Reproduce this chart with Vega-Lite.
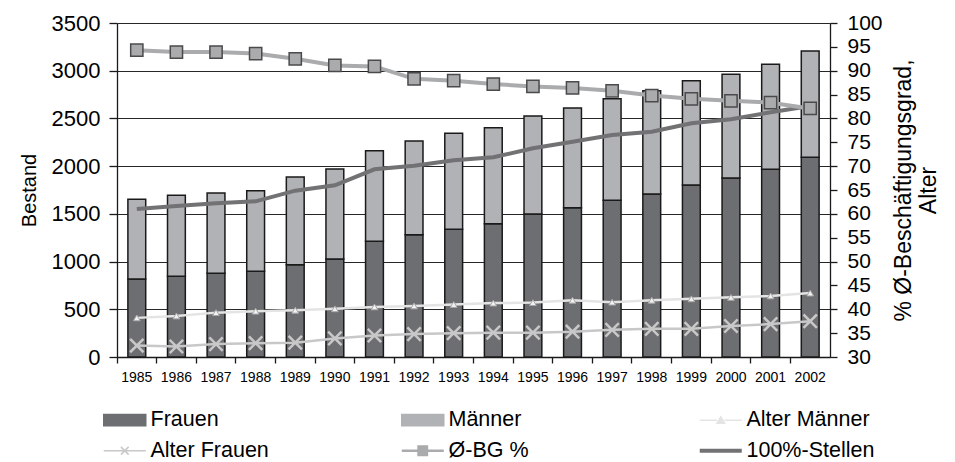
{
  "$schema": "https://vega.github.io/schema/vega-lite/v6.json",
  "width": 713,
  "height": 334,
  "autosize": {"type": "none"},
  "padding": {"left": 117, "top": 23, "right": 125, "bottom": 105},
  "background": "white",
  "data": {
    "values": [
      {"year": "1985", "Frauen": 817, "Männer": 836, "Stellen": 1551, "BG": 94.3, "AlterM": 38.2, "AlterF": 32.4},
      {"year": "1986", "Frauen": 845, "Männer": 849, "Stellen": 1582, "BG": 93.9, "AlterM": 38.6, "AlterF": 32.2},
      {"year": "1987", "Frauen": 877, "Männer": 842, "Stellen": 1610, "BG": 93.9, "AlterM": 39.3, "AlterF": 32.7},
      {"year": "1988", "Frauen": 898, "Männer": 845, "Stellen": 1631, "BG": 93.6, "AlterM": 39.6, "AlterF": 32.9},
      {"year": "1989", "Frauen": 967, "Männer": 919, "Stellen": 1743, "BG": 92.5, "AlterM": 39.8, "AlterF": 33.0},
      {"year": "1990", "Frauen": 1027, "Männer": 943, "Stellen": 1799, "BG": 91.1, "AlterM": 40.1, "AlterF": 33.9},
      {"year": "1991", "Frauen": 1212, "Männer": 950, "Stellen": 1967, "BG": 90.9, "AlterM": 40.5, "AlterF": 34.5},
      {"year": "1992", "Frauen": 1282, "Männer": 981, "Stellen": 2005, "BG": 88.3, "AlterM": 40.7, "AlterF": 34.8},
      {"year": "1993", "Frauen": 1338, "Männer": 1006, "Stellen": 2061, "BG": 87.9, "AlterM": 41.0, "AlterF": 35.0},
      {"year": "1994", "Frauen": 1397, "Männer": 1006, "Stellen": 2093, "BG": 87.2, "AlterM": 41.3, "AlterF": 35.1},
      {"year": "1995", "Frauen": 1498, "Männer": 1027, "Stellen": 2187, "BG": 86.7, "AlterM": 41.4, "AlterF": 35.1},
      {"year": "1996", "Frauen": 1565, "Männer": 1044, "Stellen": 2256, "BG": 86.4, "AlterM": 41.9, "AlterF": 35.3},
      {"year": "1997", "Frauen": 1642, "Männer": 1065, "Stellen": 2326, "BG": 85.8, "AlterM": 41.5, "AlterF": 35.7},
      {"year": "1998", "Frauen": 1708, "Männer": 1083, "Stellen": 2361, "BG": 84.8, "AlterM": 41.9, "AlterF": 35.9},
      {"year": "1999", "Frauen": 1802, "Männer": 1094, "Stellen": 2449, "BG": 84.1, "AlterM": 42.2, "AlterF": 35.9},
      {"year": "2000", "Frauen": 1876, "Männer": 1086, "Stellen": 2491, "BG": 83.7, "AlterM": 42.5, "AlterF": 36.5},
      {"year": "2001", "Frauen": 1967, "Männer": 1100, "Stellen": 2564, "BG": 83.3, "AlterM": 42.8, "AlterF": 36.9},
      {"year": "2002", "Frauen": 2093, "Männer": 1114, "Stellen": 2630, "BG": 82.1, "AlterM": 43.4, "AlterF": 37.5}
    ]
  },
  "encoding": {
    "x": {"field": "year", "type": "ordinal", "title": null, "scale": {"paddingInner": 0, "paddingOuter": 0}}
  },
  "layer": [
    {
      "layer": [
        {
          "transform": [{"fold": ["Frauen", "Männer"], "as": ["series", "value"]}],
          "mark": {"type": "bar", "width": {"band": 0.45}, "stroke": "#1a1a1a", "strokeWidth": 1.5},
          "encoding": {
            "y": {"field": "value", "type": "quantitative", "stack": "zero", "title": "Bestand",
                  "scale": {"domain": [0, 3500], "nice": false},
                  "axis": {"values": [0, 500, 1000, 1500, 2000, 2500, 3000, 3500], "format": "d"}},
            "color": {"field": "series", "type": "nominal",
              "scale": {"domain": ["Frauen", "Männer", "Alter Männer", "Alter Frauen", "Ø-BG %", "100%-Stellen"],
                        "range": ["#6d6e71", "#b1b2b5", "#e4e4e4", "#c8c8c8", "#aaabad", "#727275"]},
              "legend": {
                "title": null, "orient": "none", "legendX": -3, "legendY": 386,
                "direction": "horizontal", "columns": 3, "gridAlign": "all",
                "columnPadding": 114, "rowPadding": 8, "padding": 0,
                "labelFontSize": 21.5, "labelFont": "Liberation Sans", "labelColor": "#000",
                "symbolSize": 196, "labelOffset": 15, "labelLimit": 300,
                "encoding": {
                  "symbols": {
                    "shape": {"value": {"expr": "datum.value === 'Frauen' || datum.value === 'Männer' ? 'M-3,-0.8H3V0.8H-3Z' : datum.value === 'Alter Männer' ? 'M-3,0H-0.55M0.55,0H3M-0.55,0.45L0,-0.5L0.55,0.45Z' : datum.value === 'Alter Frauen' ? 'M-3,0H3M-0.55,-0.55L0.55,0.55M-0.55,0.55L0.55,-0.55' : datum.value === 'Ø-BG %' ? 'M-3,0H-0.6M0.6,0H3M-0.6,-0.6H0.6V0.6H-0.6Z' : 'M-3,0H3'"}},
                    "fill": {"value": {"expr": "datum.value === 'Frauen' ? '#6d6e71' : datum.value === 'Männer' ? '#b1b2b5' : datum.value === 'Alter Männer' ? '#f5f5f5' : datum.value === 'Ø-BG %' ? '#aaabad' : 'transparent'"}},
                    "stroke": {"value": {"expr": "datum.value === 'Frauen' || datum.value === 'Männer' ? '#1e1e1e' : datum.value === 'Alter Männer' ? '#a0a0a0' : datum.value === 'Alter Frauen' ? '#c4c4c4' : datum.value === 'Ø-BG %' ? '#7e7e80' : '#727275'"}},
                    "strokeWidth": {"value": {"expr": "datum.value === '100%-Stellen' ? 4 : datum.value === 'Ø-BG %' ? 2.5 : 1.5"}},
                    "opacity": {"value": 1},
                    "fillOpacity": {"value": 1},
                    "strokeOpacity": {"value": 1}
                  }
                }
              }
            },
            "order": {"field": "series", "sort": "ascending"}
          }
        },
        {
          "mark": {"type": "line", "strokeWidth": 4},
          "encoding": {
            "y": {"field": "Stellen", "type": "quantitative", "title": "Bestand"},
            "color": {"datum": "100%-Stellen", "type": "nominal", "legend": null}
          }
        }
      ]
    },
    {
      "layer": [
        {
          "mark": {"type": "line", "strokeWidth": 2.5},
          "encoding": {
            "y": {"field": "AlterF", "type": "quantitative", "title": ["% Ø-Beschäftigungsgrad,", "Alter"],
                  "scale": {"domain": [30, 100], "nice": false, "zero": false},
                  "axis": {"orient": "right", "values": [30, 35, 40, 45, 50, 55, 60, 65, 70, 75, 80, 85, 90, 95, 100]}},
            "color": {"datum": "Alter Frauen", "type": "nominal", "legend": null}
          }
        },
        {
          "mark": {"type": "point", "shape": "M-1,-1L1,1M-1,1L1,-1", "size": 180, "stroke": "#c8c8c8", "strokeWidth": 2.5, "filled": false, "opacity": 1},
          "encoding": {
            "y": {"field": "AlterF", "type": "quantitative", "title": ["% Ø-Beschäftigungsgrad,", "Alter"],
                  "axis": {"orient": "right", "values": [30, 35, 40, 45, 50, 55, 60, 65, 70, 75, 80, 85, 90, 95, 100]}}
          }
        },
        {
          "mark": {"type": "line", "strokeWidth": 2.5},
          "encoding": {
            "y": {"field": "AlterM", "type": "quantitative", "title": ["% Ø-Beschäftigungsgrad,", "Alter"],
                  "axis": {"orient": "right", "values": [30, 35, 40, 45, 50, 55, 60, 65, 70, 75, 80, 85, 90, 95, 100]}},
            "color": {"datum": "Alter Männer", "type": "nominal", "legend": null}
          }
        },
        {
          "mark": {"type": "point", "shape": "triangle-up", "size": 45, "fill": "#f2f2f2", "stroke": "#a8a8a8", "strokeWidth": 1, "filled": true, "opacity": 1},
          "encoding": {
            "y": {"field": "AlterM", "type": "quantitative", "title": ["% Ø-Beschäftigungsgrad,", "Alter"],
                  "axis": {"orient": "right", "values": [30, 35, 40, 45, 50, 55, 60, 65, 70, 75, 80, 85, 90, 95, 100]}}
          }
        },
        {
          "mark": {"type": "line", "strokeWidth": 4},
          "encoding": {
            "y": {"field": "BG", "type": "quantitative", "title": ["% Ø-Beschäftigungsgrad,", "Alter"],
                  "axis": {"orient": "right", "values": [30, 35, 40, 45, 50, 55, 60, 65, 70, 75, 80, 85, 90, 95, 100]}},
            "color": {"datum": "Ø-BG %", "type": "nominal", "legend": null}
          }
        },
        {
          "mark": {"type": "point", "shape": "square", "size": 150, "fill": "#aaabad", "stroke": "#4a4a4c", "strokeWidth": 1.5, "filled": true, "opacity": 1},
          "encoding": {
            "y": {"field": "BG", "type": "quantitative", "title": ["% Ø-Beschäftigungsgrad,", "Alter"],
                  "axis": {"orient": "right", "values": [30, 35, 40, 45, 50, 55, 60, 65, 70, 75, 80, 85, 90, 95, 100]}}
          }
        }
      ]
    }
  ],
  "resolve": {"scale": {"y": "independent"}},
  "config": {
    "view": {"stroke": null},
    "font": "Liberation Sans",
    "axis": {
      "labelFont": "Liberation Sans", "titleFont": "Liberation Sans",
      "labelColor": "#000", "titleColor": "#000", "titleFontWeight": "normal",
      "domainColor": "#1a1a1a", "tickColor": "#1a1a1a", "gridColor": "#262626",
      "gridWidth": 1, "domainWidth": 1.3, "tickWidth": 1.3
    },
    "axisX": {"labelFontSize": 14, "labelAngle": 0, "tickSize": 6, "labelPadding": 7, "bandPosition": 0, "grid": false},
    "axisLeft": {"labelFontSize": 22, "tickSize": 8, "labelPadding": 9, "titleFontSize": 20, "titlePadding": 12, "grid": true},
    "axisRight": {"labelFontSize": 21, "tickSize": 7, "labelPadding": 10, "titleFontSize": 23, "titlePadding": 8, "grid": false, "titleAngle": 270}
  }
}
